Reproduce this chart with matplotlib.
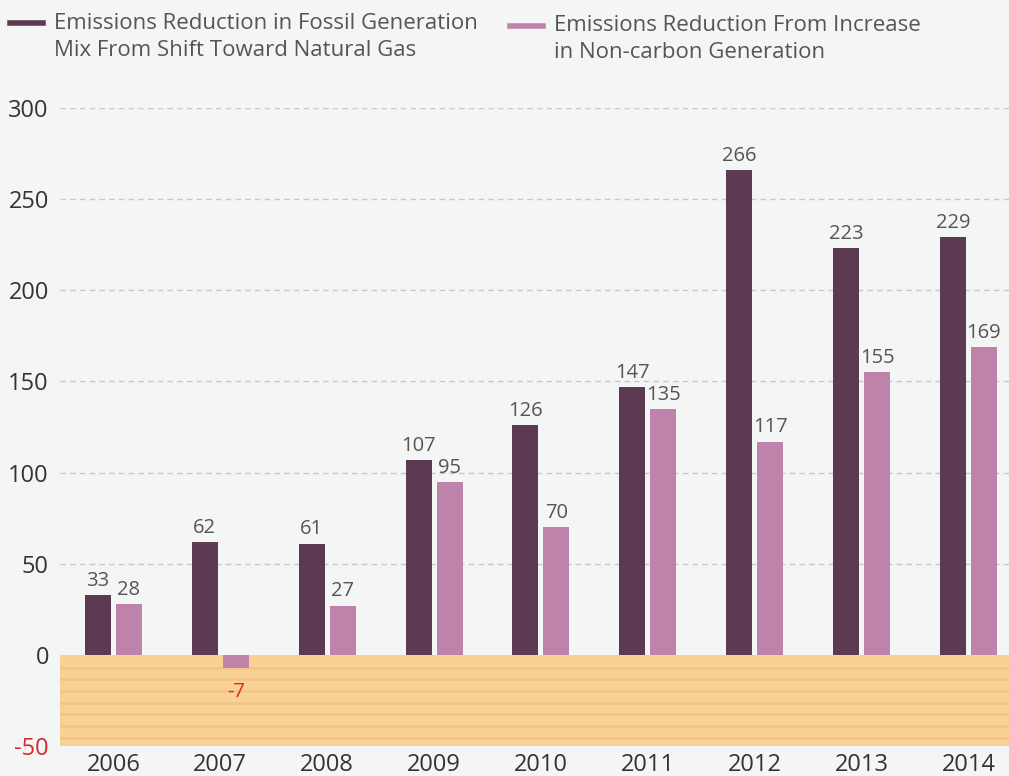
import matplotlib
matplotlib.use("Agg")
import matplotlib.pyplot as plt
import numpy as np
from matplotlib.lines import Line2D

plt.rcParams['font.family'] = ['Open Sans', 'DejaVu Sans']

years = ["2006", "2007", "2008", "2009", "2010", "2011", "2012", "2013", "2014"]
fossil_shift = [33, 62, 61, 107, 126, 147, 266, 223, 229]
non_carbon = [28, -7, 27, 95, 70, 135, 117, 155, 169]
series_names = ["Emissions Reduction in Fossil Generation\nMix From Shift Toward Natural Gas",
                "Emissions Reduction From Increase\nin Non-carbon Generation"]
yticks = [-50, 0, 50, 100, 150, 200, 250, 300]

dark = "#5c3a51"
pink = "#be82ab"
bg = "#f4f5f5"
text_gray = "#555555"
red = "#d9262c"

fig = plt.figure(figsize=(10.09, 7.76), dpi=100, facecolor=bg)
ax = fig.add_axes([60/1009, 30/776, 949/1009, (746-108)/776])
ax.set_facecolor(bg)

x = np.arange(len(years))
w = 0.243
off = 0.145

# orange negative band with stripes
ax.axhspan(-50, 0, color="#f9d195", zorder=0, lw=0)
for s in np.arange(-7.1, -48, -6.4):
    ax.axhline(s, color="#f0c688", lw=2.0, zorder=0.5)

for yv in [50, 100, 150, 200, 250, 300]:
    ax.axhline(yv, color="#c8c8c8", lw=1, ls=(0, (4, 3)), zorder=0.5)

ax.bar(x - off, fossil_shift, width=w, color=dark, zorder=2)
ax.bar(x + off, non_carbon, width=w, color=pink, zorder=2)

for xi, v in zip(x, fossil_shift):
    ax.annotate(str(v), (xi - off, v), xytext=(0, 3), textcoords="offset points",
                ha="center", va="bottom", fontsize=14.5, color=text_gray)
for xi, v in zip(x, non_carbon):
    if v >= 0:
        ax.annotate(str(v), (xi + off, v), xytext=(0, 3), textcoords="offset points",
                    ha="center", va="bottom", fontsize=14.5, color=text_gray)
    else:
        ax.annotate(str(v), (xi + off, v), xytext=(0, -10), textcoords="offset points",
                    ha="center", va="top", fontsize=14.5, color=red)

ax.set_xlim(-0.5, 8.38)
ax.set_ylim(-50, 300)
ax.set_yticks(yticks)
ax.set_yticklabels([str(t) for t in yticks], fontsize=17, color="#333333")
ax.get_yticklabels()[0].set_color(red)
ax.set_xticks(x)
ax.set_xticklabels(years, fontsize=17, color="#333333")
ax.tick_params(axis="both", length=0)
ax.tick_params(axis="y", pad=8)
ax.tick_params(axis="x", pad=5)
for sp in ax.spines.values():
    sp.set_visible(False)

# legend
fig.lines.append(Line2D([10/1009, 43/1009], [1 - 23/776, 1 - 23/776], color=dark, lw=4,
                        transform=fig.transFigure))
fig.lines.append(Line2D([510/1009, 543/1009], [1 - 26/776, 1 - 26/776], color=pink, lw=4,
                        transform=fig.transFigure))
fig.text(54/1009, 1 - 37/776, series_names[0], fontsize=16, color=text_gray,
         va="center", ha="left", linespacing=1.38)
fig.text(554/1009, 1 - 39/776, series_names[1], fontsize=16, color=text_gray,
         va="center", ha="left", linespacing=1.38)

fig.savefig("out.png", dpi=100, facecolor=bg)
